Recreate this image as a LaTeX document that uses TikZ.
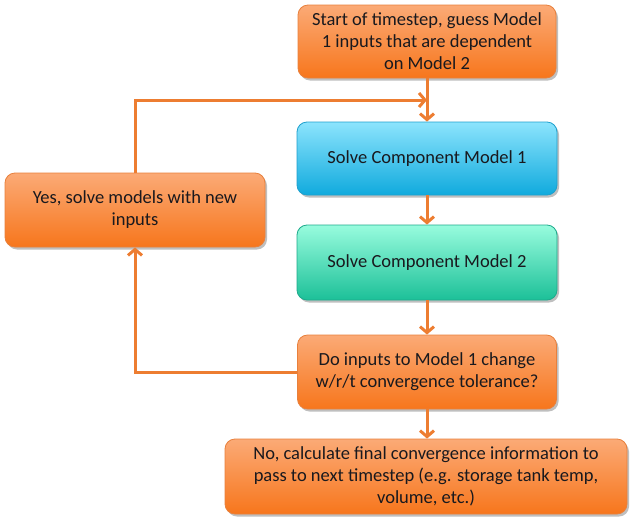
\documentclass[tikz,border=0pt]{standalone}
\usepackage{fontspec}
\setmainfont{Carlito}
\usetikzlibrary{arrows.meta,shadows}
\definecolor{arr}{RGB}{237,125,49}
\definecolor{txt}{RGB}{25,25,30}
\definecolor{ortop}{RGB}{251,170,118}
\definecolor{orbot}{RGB}{247,118,28}
\definecolor{ordraw}{RGB}{232,128,60}
\definecolor{bltop}{RGB}{140,228,253}
\definecolor{blbot}{RGB}{16,170,221}
\definecolor{bldraw}{RGB}{30,160,205}
\definecolor{grtop}{RGB}{152,252,222}
\definecolor{grbot}{RGB}{28,192,152}
\definecolor{grdraw}{RGB}{30,170,140}
\begin{document}
\begin{tikzpicture}[x=1pt,y=-1pt,
  box/.style={rounded corners=10pt, line width=0.8pt, align=center, inner sep=0pt,
    font=\fontsize{18.5}{22}\selectfont, text=txt,
    drop shadow={shadow xshift=2pt, shadow yshift=-2.5pt, opacity=0.25, fill=black}},
  orangebox/.style={box, draw=ordraw, top color=ortop, bottom color=orbot},
  bluebox/.style={box, draw=bldraw, top color=bltop, bottom color=blbot},
  greenbox/.style={box, draw=grdraw, top color=grtop, bottom color=grbot},
  flow/.style={draw=arr, line width=3pt, -{Straight Barb[length=6pt,width=14pt]}}]
\useasboundingbox (0,0) rectangle (633,528);
\node[orangebox, minimum width=258pt, minimum height=73pt] (top) at (427,41.5)
  {Start of timestep, guess Model\\1 inputs that are dependent\\on Model 2};
\node[bluebox, minimum width=260pt, minimum height=73pt] (m1) at (427,158.5)
  {Solve Component Model 1};
\node[greenbox, minimum width=260pt, minimum height=75pt] (m2) at (427,262.5)
  {Solve Component Model 2};
\node[orangebox, minimum width=259pt, minimum height=74pt] (q) at (427,372)
  {Do inputs to Model 1 change\\w/r/t convergence tolerance?};
\node[orangebox, minimum width=402pt, minimum height=75pt] (no) at (426,476.5)
  {No, calculate final convergence information to\\pass to next timestep (e.g. storage tank temp,\\volume, etc.)};
\node[orangebox, minimum width=260pt, minimum height=74pt] (yes) at (135,210)
  {Yes, solve models with new\\inputs};
\coordinate (j) at (427,100);
\draw[flow] (top.south) -- (m1.north);
\draw[flow] (m1.south) -- (m2.north);
\draw[flow] (m2.south) -- (q.north);
\draw[flow] (q.south) -- (no.north -| q.south);
\draw[flow] (q.west) -| (yes.south);
\draw[flow] (yes.north) |- (j);
\end{tikzpicture}
\end{document}
